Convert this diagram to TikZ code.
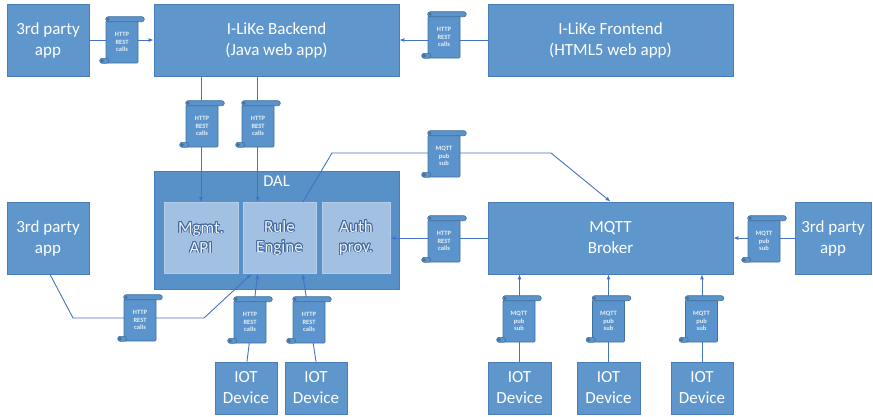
\documentclass[tikz,border=0pt]{standalone}
\usepackage{fontspec}
\setmainfont{Carlito}
\usepackage{contour}
\usetikzlibrary{arrows.meta,calc,positioning}
\definecolor{BoxBlue}{HTML}{5F97CD}
\definecolor{BoxEdge}{HTML}{4A7EBB}
\definecolor{DalBlue}{HTML}{5890C8}
\definecolor{InnerBlue}{HTML}{A2C0E2}
\definecolor{InnerEdge}{HTML}{B5CDE9}
\definecolor{InnerText}{HTML}{EEF3FA}
\definecolor{InnerLine}{HTML}{4268A0}
\definecolor{LinkBlue}{HTML}{4472C4}
\definecolor{ScrollBlue}{HTML}{5B94CC}
\definecolor{ScrollEdge}{HTML}{41719C}

\contourlength{0.8pt}

\tikzset{
  box/.style={draw=BoxEdge, fill=BoxBlue, line width=0.8pt, text=white, align=center,
    font=\fontsize{17}{21}\selectfont, inner sep=0pt},
  dalbox/.style={draw=BoxEdge, fill=DalBlue, line width=0.8pt},
  innerbox/.style={draw=InnerEdge, fill=InnerBlue, line width=0.6pt, text=InnerText, align=center,
    font=\fontsize{17}{20}\selectfont, minimum height=71pt, inner sep=0pt},
  link/.style={draw=LinkBlue, line width=0.9pt, -{Latex[length=5pt,width=4pt]}},
  scrollbody/.style={draw=ScrollEdge, fill=ScrollBlue, line width=0.6pt, rounded corners=1pt,
    minimum width=32pt, minimum height=42pt, inner sep=0pt, text=white!85!ScrollBlue, align=center,
    font=\fontsize{6.5}{7.7}\selectfont\bfseries},
  scrollroll/.style={draw=ScrollEdge, fill=ScrollBlue, line width=0.6pt, rounded corners=2.4pt},
  curl/.style={fill=ScrollEdge}
}

% message scroll: name, centre of the sheet, text
\newcommand{\msgscroll}[3]{%
  \node[scrollbody] (#1) at (#2) {#3};
  \draw[scrollroll] ($(#1.north west)+(0,-4)$) rectangle ($(#1.north east)+(6,1)$);
  \draw[scrollroll] ($(#1.south west)+(-6,-5)$) rectangle ($(#1.south west)+(3,0)$);
  \fill[curl] ($(#1.north west)+(2.4,-1.5)$) circle (1.6pt);
  \fill[curl] ($(#1.south west)+(-3.6,-2.5)$) circle (1.9pt);
}

\begin{document}
\begin{tikzpicture}[x=1pt,y=-1pt]
  \useasboundingbox (0,0) rectangle (873,416);

  % top row
  \node[box, minimum width=82pt, minimum height=72pt] (app1) at (48,40) {3rd party\\app};
  \node[box, minimum width=245pt, minimum height=72pt] (backend) at (276.5,40) {I-LiKe Backend\\(Java web app)};
  \node[box, minimum width=245pt, minimum height=72pt] (frontend) at (610.5,40) {I-LiKe Frontend\\(HTML5 web app)};

  % DAL with its three parts
  \node[dalbox, minimum width=245pt, minimum height=118pt] (dal) at (276.5,230) {};
  \node[text=white, inner sep=0pt, font=\fontsize{16.5}{20}\selectfont, below=5pt of dal.north] (dallabel) {DAL};
  \node[innerbox, minimum width=74pt] (mgmt) at (201,238) {\contour{InnerLine}{Mgmt.}\\\contour{InnerLine}{API}};
  \node[innerbox, minimum width=73pt] (rule) at (279.5,238) {\contour{InnerLine}{Rule}\\\contour{InnerLine}{Engine}};
  \node[innerbox, minimum width=68pt] (auth) at (356,238) {\contour{InnerLine}{Auth}\\\contour{InnerLine}{prov.}};

  % middle row
  \node[box, minimum width=82pt, minimum height=72pt] (app2) at (48,238) {3rd party\\app};
  \node[box, minimum width=245pt, minimum height=72pt] (broker) at (610.5,238) {MQTT\\Broker};
  \node[box, minimum width=76pt, minimum height=72pt] (app3) at (833,238) {3rd party\\app};

  % devices
  \node[box, minimum width=62pt, minimum height=52pt] (iot1) at (246,388) {IOT\\Device};
  \node[box, minimum width=62pt, minimum height=52pt] (iot2) at (316,388) {IOT\\Device};
  \node[box, minimum width=63pt, minimum height=52pt] (iot3) at (519.5,388) {IOT\\Device};
  \node[box, minimum width=63pt, minimum height=52pt] (iot4) at (608.5,388) {IOT\\Device};
  \node[box, minimum width=62pt, minimum height=52pt] (iot5) at (702,388) {IOT\\Device};

  % connectors
  \coordinate (ruleIn) at ($(rule.north west)+(15,0)$);
  \coordinate (ruleOut) at ($(rule.north west)+(60,0)$);
  \coordinate (bendA) at (332,153);
  \coordinate (bendB) at (551,153);
  \coordinate (app2Out) at ($(app2.south)+(2,0)$);
  \coordinate (bendC) at (73,318);
  \coordinate (bendD) at (204,318);

  \draw[link] (app1) -- (backend);
  \draw[link] (frontend) -- (backend);
  \draw[link] (mgmt.north |- backend.south) -- (mgmt.north);
  \draw[link] (backend.south -| ruleIn) -- (ruleIn);
  \draw[link] (ruleOut) -- (bendA) -- (bendB) -- (broker.north);
  \draw[link] (broker) -- (auth);
  \draw[link] (app3) -- (broker);
  \draw[link] (app2Out) -- (bendC) -- (bendD) -- ($(rule.south west)+(9,0)$);
  \draw[link] ($(iot1.north)+(1,0)$) -- ($(rule.south west)+(15,0)$);
  \draw[link] (iot2.north) -- ($(rule.south west)+(60,0)$);
  \draw[link] (iot3) -- (iot3 |- broker.south);
  \draw[link] (iot4) -- (iot4 |- broker.south);
  \draw[link] (iot5) -- (iot5 |- broker.south);

  % scrolls on the connectors
  \msgscroll{restA}{122,42}{HTTP\\REST\\calls}
  \msgscroll{restB}{444,37}{HTTP\\REST\\calls}
  \msgscroll{restC}{202,126}{HTTP\\REST\\calls}
  \msgscroll{restD}{258,126}{HTTP\\REST\\calls}
  \msgscroll{pubA}{444,156}{MQTT\\pub\\sub}
  \msgscroll{restE}{444,241}{HTTP\\REST\\calls}
  \msgscroll{pubB}{764,241}{MQTT\\pub\\sub}
  \msgscroll{restF}{140,320}{HTTP\\REST\\calls}
  \msgscroll{restG}{250,322}{HTTP\\REST\\calls}
  \msgscroll{restH}{309,322}{HTTP\\REST\\calls}
  \msgscroll{pubC}{519,321}{MQTT\\pub\\sub}
  \msgscroll{pubD}{608.5,321}{MQTT\\pub\\sub}
  \msgscroll{pubE}{701.5,321}{MQTT\\pub\\sub}
\end{tikzpicture}
\end{document}
